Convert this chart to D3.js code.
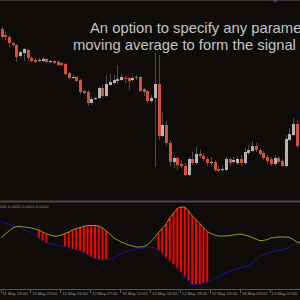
<!DOCTYPE html>
<html>
<head>
<meta charset="utf-8">
<script src="https://cdn.jsdelivr.net/npm/d3@7"></script>
<style>
	html, body { margin: 0; padding: 0; background: #0e0b09; }
	svg { display: block; }
</style>
</head>
<body>
<div id="chart"></div>
<script>
// 30 minute candles, 81 bars
const opens = [1.0971,1.0965,1.0963,1.0957,1.0955,1.0944,1.0947,1.0950,1.0942,1.0940,
	1.0939,1.0939,1.0941,1.0938,1.0939,1.0938,1.0937,1.0936,1.0927,1.0922,
	1.0923,1.0920,1.0909,1.0908,1.0897,1.0901,1.0902,1.0912,1.0904,1.0915,
	1.0917,1.0919,1.0920,1.0922,1.0922,1.0920,1.0923,1.0923,1.0911,1.0909,
	1.0899,1.0902,1.0916,1.0864,1.0875,1.0857,1.0838,1.0842,1.0836,1.0834,
	1.0825,1.0841,1.0837,1.0846,1.0844,1.0841,1.0837,1.0838,1.0831,1.0830,
	1.0830,1.0841,1.0838,1.0837,1.0841,1.0837,1.0847,1.0849,1.0854,1.0850,
	1.0847,1.0843,1.0841,1.0836,1.0842,1.0839,1.0834,1.0860,1.0865,1.0876,
	1.0854]
const highs = [1.0973,1.0968,1.0965,1.0959,1.0956,1.0949,1.0952,1.0951,1.0944,1.0942,
	1.0942,1.0943,1.0942,1.0940,1.0940,1.0940,1.0938,1.0937,1.0928,1.0925,
	1.0924,1.0921,1.0910,1.0910,1.0903,1.0903,1.0914,1.0916,1.0925,1.0926,
	1.0925,1.0935,1.0926,1.0924,1.0923,1.0924,1.0925,1.0924,1.0912,1.0910,
	1.0905,1.0947,1.0945,1.0888,1.0879,1.0860,1.0845,1.0843,1.0840,1.0837,
	1.0843,1.0848,1.0853,1.0850,1.0847,1.0843,1.0843,1.0840,1.0834,1.0835,
	1.0843,1.0843,1.0843,1.0844,1.0845,1.0852,1.0855,1.0859,1.0857,1.0852,
	1.0849,1.0845,1.0843,1.0845,1.0844,1.0841,1.0865,1.0872,1.0882,1.0880,
	1.0856]
const lows = [1.0961,1.0960,1.0953,1.0954,1.0938,1.0942,1.0939,1.0939,1.0938,1.0937,
	1.0938,1.0938,1.0937,1.0937,1.0936,1.0934,1.0934,1.0925,1.0921,1.0921,
	1.0918,1.0906,1.0906,1.0894,1.0895,1.0900,1.0901,1.0903,1.0903,1.0914,
	1.0915,1.0916,1.0919,1.0917,1.0910,1.0918,1.0920,1.0908,1.0904,1.0897,
	1.0897,1.0833,1.0860,1.0863,1.0854,1.0833,1.0832,1.0830,1.0832,1.0824,
	1.0824,1.0835,1.0835,1.0842,1.0839,1.0834,1.0835,1.0828,1.0828,1.0829,
	1.0829,1.0834,1.0836,1.0835,1.0834,1.0835,1.0845,1.0848,1.0848,1.0844,
	1.0840,1.0836,1.0834,1.0834,1.0836,1.0833,1.0832,1.0859,1.0864,1.0852,
	1.0844]
const closes = [1.0963,1.0963,1.0957,1.0955,1.0943,1.0948,1.0951,1.0942,1.0939,1.0938,
	1.0940,1.0941,1.0938,1.0939,1.0937,1.0935,1.0935,1.0926,1.0922,1.0923,
	1.0919,1.0908,1.0907,1.0897,1.0901,1.0902,1.0912,1.0904,1.0916,1.0918,
	1.0920,1.0921,1.0923,1.0921,1.0919,1.0922,1.0922,1.0909,1.0908,1.0899,
	1.0902,1.0916,1.0864,1.0875,1.0857,1.0838,1.0842,1.0835,1.0834,1.0825,
	1.0841,1.0837,1.0846,1.0844,1.0841,1.0837,1.0838,1.0830,1.0829,1.0831,
	1.0841,1.0837,1.0840,1.0841,1.0837,1.0848,1.0850,1.0854,1.0850,1.0846,
	1.0842,1.0839,1.0836,1.0842,1.0838,1.0834,1.0861,1.0866,1.0876,1.0854,
	1.0847]

// indicator window
const signalLine = [0.0007,0.0011,0.0014,0.0017,0.00185,0.00185,0.0018,0.00175,0.0017,0.0016,
	0.0015,0.0013,0.0011,0.0010,0.0009,0.0009,0.0010,0.00115,0.0013,0.0015,
	0.00165,0.00175,0.00185,0.00195,0.00195,0.00195,0.0019,0.0017,0.0014,0.0011,
	0.0007,0.0005,0.0003,0.00015,0,-0.0001,-0.0002,-0.0002,-0.00015,0,
	0.00035,0.0008,0.00125,0.00165,0.0021,0.0027,0.0032,0.00365,0.0038,0.0038,
	0.0034,0.0029,0.00255,0.00215,0.0017,0.00135,0.00115,0.0010,0.0009,0.0009,
	0.0009,0.00095,0.0010,0.00105,0.0011,0.0010,0.0009,0.00075,0.0006,0.00045,
	0.00045,0.00055,0.0007,0.00075,0.0008,0.0008,0.0008,0.00075,0.00055,0.0003,
	0.0002]
const baseLine = [0.0023,0.0022,0.0021,0.0019,0.0018,0.0017,0.0015,0.0014,0.00125,0.0010,
	0.0007,0.00045,0.0002,0.00015,0.00005,0,-0.0001,-0.00015,-0.00025,-0.0004,
	-0.0005,-0.0006,-0.00075,-0.0010,-0.0012,-0.00135,-0.00145,-0.0015,-0.00145,-0.0014,
	-0.0013,-0.0011,-0.0009,-0.0007,-0.0006,-0.0005,-0.0004,-0.00035,-0.0003,-0.00025,
	-0.0002,-0.0003,-0.0005,-0.00085,-0.00125,-0.0016,-0.00195,-0.00235,-0.00275,-0.00315,
	-0.00355,-0.00395,-0.00395,-0.0039,-0.0038,-0.0037,-0.0036,-0.00335,-0.00315,-0.00295,
	-0.00275,-0.00265,-0.0025,-0.0024,-0.0023,-0.0022,-0.0021,-0.0018,-0.0015,-0.00115,
	-0.00095,-0.0008,-0.0007,-0.0006,-0.00055,-0.0005,-0.0004,-0.0002,0.00005,0.0002,
	0.0001]
// bars where the histogram is painted
const histBars = [10,11,12,17,18,19,20,21,22,23,24,25,26,27,28,
	42,43,44,45,46,47,48,49,50,51,52,53,54,55]

const timeLabels = ['11 May 19:00','11 May 23:00','12 May 03:00','12 May 07:00','12 May 11:00',
	'12 May 15:00','12 May 19:00','12 May 23:00','13 May 03:00','13 May 07:00']
const labelEvery = 8

const captionLines = ['An option to specify any parameters', 'moving average to form the signal line']

const width = 300
const height = 300
const bg = '#0e0b09'

const svg = d3.select('#chart').append('svg')
	.attr('width', width)
	.attr('height', height)
	.style('font-family', '"Liberation Sans", Arial, sans-serif')

svg.append('rect').attr('width', width).attr('height', height).attr('fill', bg)

const n = opens.length
const x = d3.scaleLinear().domain([0, n - 1]).range([1.5, 300.7])
const y = d3.scaleLinear().domain([1.08, 1.10]).range([200, 0])
const yInd = d3.scaleLinear().domain([0.0042, -0.0043]).range([203, 288])

const candles = d3.range(n).map(i => ({
	i, o: opens[i], h: highs[i], l: lows[i], c: closes[i]
}))

// main window
svg.append('clipPath').attr('id', 'main-clip')
	.append('rect').attr('width', width).attr('height', 200)
svg.append('clipPath').attr('id', 'ind-clip')
	.append('rect').attr('y', 203).attr('width', width).attr('height', 86)

const main = svg.append('g').attr('clip-path', 'url(#main-clip)')

// top frame line
main.append('line')
	.attr('x1', 0).attr('x2', width).attr('y1', 0.5).attr('y2', 0.5)
	.attr('stroke', '#3a3a3a')
main.append('path')
	.attr('d', 'M272.5,0 L277.5,0 L275,3 Z')
	.attr('fill', '#44446e')

main.selectAll('.wick').data(candles).enter()
	.append('line')
	.attr('class', 'wick')
	.attr('x1', d => Math.round(x(d.i)) + 0.5)
	.attr('x2', d => Math.round(x(d.i)) + 0.5)
	.attr('y1', d => y(d.h))
	.attr('y2', d => y(d.l))
	.attr('stroke', '#4c4c4c')
	.attr('stroke-width', 1)

main.selectAll('.body').data(candles).enter()
	.append('rect')
	.attr('class', 'body')
	.attr('x', d => Math.round(x(d.i)) - 1)
	.attr('width', 3)
	.attr('y', d => y(Math.max(d.o, d.c)))
	.attr('height', d => Math.max(1, Math.abs(y(d.o) - y(d.c))))
	.attr('fill', d => d.c < d.o ? '#d4503b' : '#b3b3b3')

svg.selectAll('.caption').data(captionLines).enter()
	.append('text')
	.attr('class', 'caption')
	.attr('x', (d, i) => i === 0 ? 90 : 73)
	.attr('y', (d, i) => 33.3 + i * 16.8)
	.attr('font-size', 14.8)
	.attr('fill', '#c4c4c4')
	.text(d => d)

// window separator
svg.append('rect')
	.attr('x', 0).attr('y', 200.5).attr('width', width).attr('height', 2)
	.attr('fill', '#48484f')

// indicator window
const ind = svg.append('g').attr('clip-path', 'url(#ind-clip)')

ind.selectAll('.hist').data(histBars).enter()
	.append('rect')
	.attr('class', 'hist')
	.attr('x', i => x(i) - 1)
	.attr('width', 2)
	.attr('y', i => yInd(Math.max(signalLine[i], baseLine[i])))
	.attr('height', i => Math.abs(yInd(signalLine[i]) - yInd(baseLine[i])))
	.attr('fill', '#ff0000')

const line = d3.line()
	.x((d, i) => x(i))
	.y(d => yInd(d))

ind.append('path')
	.datum(baseLine)
	.attr('d', line)
	.attr('fill', 'none')
	.attr('stroke', '#15159a')
	.attr('stroke-width', 1)

ind.append('path')
	.datum(signalLine)
	.attr('d', line)
	.attr('fill', 'none')
	.attr('stroke', '#9a9a14')
	.attr('stroke-width', 1)

svg.append('text')
	.attr('x', 48.5)
	.attr('y', 207.8)
	.attr('text-anchor', 'end')
	.attr('font-size', 4.2)
	.attr('fill', '#8a8a8a')
	.text('0.0000 0.0000 0.0000 0.0000')

// time axis
const axisG = svg.append('g')
axisG.append('line')
	.attr('x1', 0).attr('x2', width).attr('y1', 289.5).attr('y2', 289.5)
	.attr('stroke', '#555555')

const ticks = timeLabels.map((t, k) => ({ t, i: k * labelEvery }))
axisG.selectAll('.tick').data(ticks).enter()
	.append('line')
	.attr('class', 'tick')
	.attr('x1', d => Math.round(x(d.i) - 1) + 0.5)
	.attr('x2', d => Math.round(x(d.i) - 1) + 0.5)
	.attr('y1', 289.5).attr('y2', 293)
	.attr('stroke', '#555555')
axisG.selectAll('.tlabel').data(ticks).enter()
	.append('text')
	.attr('class', 'tlabel')
	.attr('x', d => x(d.i) + 0.8)
	.attr('y', 295.3)
	.attr('font-size', 4.2)
	.attr('fill', '#9a9a9a')
	.text(d => d.t)
</script>
</body>
</html>
